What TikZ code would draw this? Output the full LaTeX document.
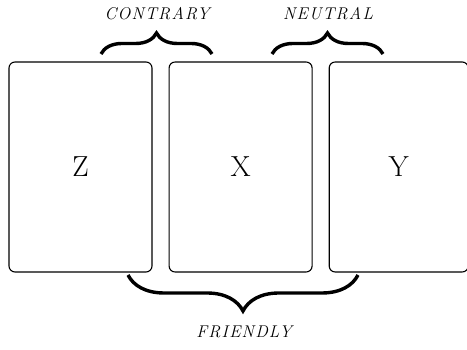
\documentclass[tikz,border=0pt]{standalone}
\usepackage{fontspec}
\usepackage{tikz}
\usetikzlibrary{positioning,decorations.pathreplacing}
\newfontfamily\spacedserif[LetterSpace=7]{Latin Modern Roman}
\tikzset{
  card/.style={draw=black,line width=1.1pt,rounded corners=6pt,
    minimum width=143pt,minimum height=210pt,inner sep=0pt,
    font=\fontsize{29}{31}\selectfont},
  bigbrace/.style={decorate,line width=3.4pt,draw=black,
    decoration={brace,amplitude=#1}},
  bracelabel/.style={font=\spacedserif\fontsize{17}{19}\selectfont\itshape}
}

\begin{document}
\begin{tikzpicture}[x=1pt,y=1pt,node distance=16pt]
  \useasboundingbox (0,0) rectangle (467,350);
  \node[card] (z) at (80.5,183) {Z};
  \node[card, right=16pt of z] (x) {X};
  \node[card, right=16pt of x, minimum width=139pt] (y) {Y};
  % braces
  \coordinate (cl) at (101,296);
  \coordinate (cr) at (212,296);
  \coordinate (nl) at (272,296);
  \coordinate (nr) at (383,296);
  \coordinate (fl) at (128,75);
  \coordinate (fr) at (358,75);
  \draw[bigbrace=21pt] (cl) -- (cr);
  \draw[bigbrace=21pt] (nl) -- (nr);
  \draw[bigbrace=36pt] (fr) -- (fl);
  \node[bracelabel] (contrary) at (157,336) {CONTRARY};
  \node[bracelabel] (neutral) at (328,336) {NEUTRAL};
  \node[bracelabel] (friendly) at (244,18) {FRIENDLY};
\end{tikzpicture}
\end{document}
